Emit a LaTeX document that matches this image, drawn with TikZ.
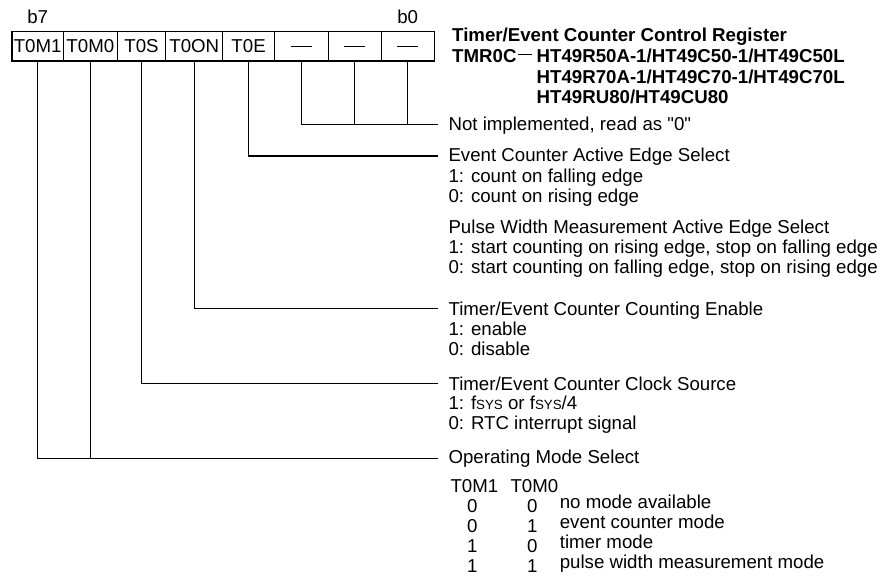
\documentclass[tikz,border=0pt]{standalone}
\usepackage{fontspec}
\setmainfont{Liberation Sans}
\usetikzlibrary{positioning}

\newcommand{\fsys}{f{\fontsize{10}{12}\selectfont SYS}}
\newcommand{\nobit}{\rule{15.5pt}{0.75pt}}

\begin{document}
\begin{tikzpicture}[
        x=0.75pt, y=-0.75pt,
        every node/.style={font=\fontsize{14}{15}\selectfont},
        line width=0.8pt,
        regcell/.style={draw, minimum height=22pt, inner sep=0pt, outer sep=0pt},
        desc/.style={anchor=base west, inner sep=0pt},
        heading/.style={desc, font=\fontsize{14}{15}\selectfont\bfseries}
    ]

    \useasboundingbox (0,0) rectangle (882,576);

    % Register bits
    \node[regcell, minimum width=38.5pt, anchor=west] (t0m1) at (12,46.3) {T0M1};
    \node[regcell, minimum width=40.5pt, right=0pt of t0m1] (t0m0) {T0M0};
    \node[regcell, minimum width=36.3pt, right=0pt of t0m0] (t0s) {T0S};
    \node[regcell, minimum width=42.8pt, right=0pt of t0s] (t0on) {T0ON};
    \node[regcell, minimum width=38.7pt, right=0pt of t0on] (t0e) {T0E};
    \node[regcell, minimum width=40.3pt, right=0pt of t0e] (bit2) {\nobit};
    \node[regcell, minimum width=39.8pt, right=0pt of bit2] (bit1) {\nobit};
    \node[regcell, minimum width=39.8pt, right=0pt of bit1] (bit0) {\nobit};

    \node[inner sep=0pt, above=5.8pt of t0m1] (lblB7) {b7};
    \node[inner sep=0pt, above=5.8pt of bit0] (lblB0) {b0};

    % Title
    \node[heading] (title) at (451.7,41.7) {Timer/Event Counter Control Register};
    \node[heading] (tmr) at (451.7,62.7) {TMR0C\hspace{1pt}\rule[5.9pt]{10.8pt}{0.8pt}};
    \node[heading, right=2.5pt of tmr.base east, anchor=base west] (chipA) {HT49R50A-1/HT49C50-1/HT49C50L};
    \node[heading] (chipB) at ([yshift=-15.6pt]chipA.base west) {HT49R70A-1/HT49C70-1/HT49C70L};
    \node[heading] (chipC) at ([yshift=-15pt]chipB.base west) {HT49RU80/HT49CU80};

    % Descriptions
    \node[desc] (niHead) at (448,130) {Not implemented, read as \textquotedbl0\textquotedbl};

    \node[desc] (ecHead) at (448,161.7) {Event Counter Active Edge Select};
    \node[desc] (ecOne) at ([yshift=-15.5pt]ecHead.base west) {1: count on falling edge};
    \node[desc] (ecZero) at ([yshift=-15pt]ecOne.base west) {0: count on rising edge};

    \node[desc] (pwHead) at (448,233.3) {Pulse Width Measurement Active Edge Select};
    \node[desc] (pwOne) at ([yshift=-15.5pt]pwHead.base west) {1: start counting on rising edge, stop on falling edge};
    \node[desc] (pwZero) at ([yshift=-15pt]pwOne.base west) {0: start counting on falling edge, stop on rising edge};

    \node[desc] (enHead) at (448,315) {Timer/Event Counter Counting Enable};
    \node[desc] (enOne) at ([yshift=-15pt]enHead.base west) {1: enable};
    \node[desc] (enZero) at ([yshift=-15pt]enOne.base west) {0: disable};

    \node[desc] (csHead) at (448,390) {Timer/Event Counter Clock Source};
    \node[desc] (csOne) at ([yshift=-14.5pt]csHead.base west) {1: \fsys{} or \fsys/4};
    \node[desc] (csZero) at ([yshift=-15pt]csOne.base west) {0: RTC interrupt signal};

    \node[desc] (omHead) at (448,463.3) {Operating Mode Select};

    % Mode table
    \node[desc] (colM1) at (450,492.3) {T0M1};
    \node[desc] (colM0) at (510,492.3) {T0M0};
    \foreach \ma/\mb/\mode [count=\i from 0] in {0/0/no mode available,
            0/1/event counter mode, 1/0/timer mode, 1/1/pulse width measurement mode} {
        \node[anchor=base, inner sep=0pt] (selM1\i) at (472.3,512.5+20*\i) {\ma};
        \node[anchor=base, inner sep=0pt] (selM0\i) at (532.3,512.5+20*\i) {\mb};
        \node[desc] (mode\i) at (559.3,508.3+20*\i) {\mode};
    }

    % Connector ends
    \coordinate (niEnd) at ([xshift=-7.7pt,yshift=4.2pt]niHead.base west);
    \coordinate (ecEnd) at ([xshift=-7.7pt,yshift=4.3pt]ecHead.base west);
    \coordinate (enEnd) at ([xshift=-7.7pt,yshift=5.2pt]enHead.base west);
    \coordinate (csEnd) at ([xshift=-7.7pt,yshift=5pt]csHead.base west);
    \coordinate (omEnd) at ([xshift=-7.7pt,yshift=3.6pt]omHead.base west);

    % Bit lines
    \draw (bit2.south) |- (niEnd);
    \draw (bit1.south) -- (bit1.south |- niEnd);
    \draw (bit0.south) -- (bit0.south |- niEnd);
    \draw (t0e.south) |- (ecEnd);
    \draw (t0on.south) |- (enEnd);
    \draw (t0s.south) |- (csEnd);
    \draw (t0m1.south) |- (omEnd);
    \draw (t0m0.south) -- (t0m0.south |- omEnd);

\end{tikzpicture}
\end{document}
